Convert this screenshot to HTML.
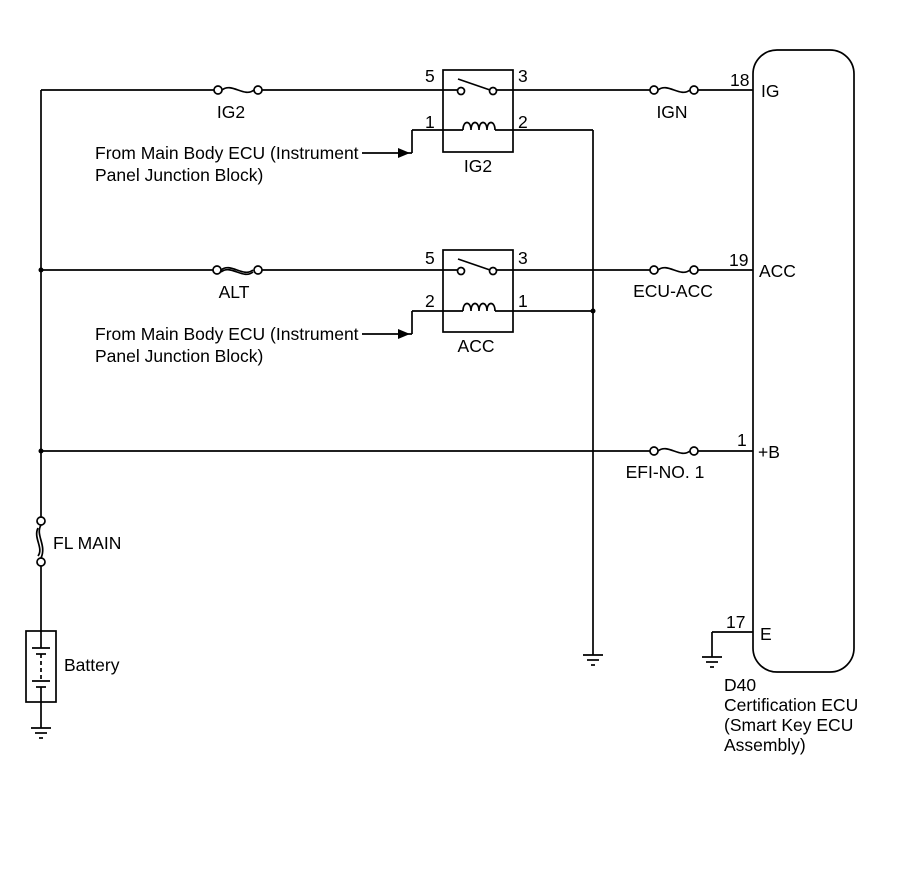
<!DOCTYPE html>
<html><head><style>
body{margin:0;background:#fff;}
svg text{font-family:"Liberation Sans",sans-serif;fill:#000;}
</style></head><body>
<svg width="907" height="866" viewBox="0 0 907 866" xmlns="http://www.w3.org/2000/svg">
<g stroke="#000" stroke-width="1.7" fill="none">
<line x1="41" y1="90" x2="41" y2="517"/>
<line x1="41" y1="566" x2="41" y2="632"/>
<line x1="41" y1="702" x2="41" y2="728"/>
<circle cx="41" cy="521" r="4" fill="#fff"/>
<circle cx="41" cy="562" r="4" fill="#fff"/>
<path d="M41 525 C35 535,47 545,41 558"/>
<path d="M38 528 C33 538,44 548,38 556"/>
<rect x="26" y="631" width="30" height="71"/>
<line x1="41" y1="631" x2="41" y2="648"/>
<line x1="32" y1="648" x2="50" y2="648"/>
<line x1="36" y1="654" x2="46" y2="654"/>
<line x1="41" y1="654" x2="41" y2="681" stroke-dasharray="4,3"/>
<line x1="32" y1="681" x2="50" y2="681"/>
<line x1="36" y1="687" x2="46" y2="687"/>
<line x1="41" y1="687" x2="41" y2="702"/>
<line x1="31" y1="728" x2="51" y2="728"/>
<line x1="35" y1="733" x2="47" y2="733"/>
<line x1="39" y1="738" x2="43" y2="738"/>

<line x1="41" y1="90" x2="214" y2="90"/>
<circle cx="218" cy="90" r="4" fill="#fff"/>
<path d="M222 90 C232 82,244 98,254 90"/>
<circle cx="258" cy="90" r="4" fill="#fff"/>
<line x1="262" y1="90" x2="457" y2="90"/>
<circle cx="461" cy="91" r="3.5" fill="#fff"/>
<line x1="458" y1="79" x2="490" y2="90"/>
<circle cx="493" cy="91" r="3.5" fill="#fff"/>
<line x1="497" y1="90" x2="650" y2="90"/>
<circle cx="654" cy="90" r="4" fill="#fff"/>
<path d="M658 90 C668 82,680 98,690 90"/>
<circle cx="694" cy="90" r="4" fill="#fff"/>
<line x1="698" y1="90" x2="753" y2="90"/>
<rect x="443" y="70" width="70" height="82"/>
<line x1="412" y1="130" x2="463" y2="130"/>
<path d="M463 130 C463 120,471 120,471 130 C471 120,479 120,479 130 C479 120,487 120,487 130 C487 120,495 120,495 130"/>
<line x1="495" y1="130" x2="593" y2="130"/>
<line x1="412" y1="130" x2="412" y2="153"/>
<line x1="362" y1="153" x2="412" y2="153"/>
<line x1="593" y1="130" x2="593" y2="655"/>
<line x1="583" y1="655" x2="603" y2="655"/>
<line x1="587" y1="660" x2="599" y2="660"/>
<line x1="591" y1="665" x2="595" y2="665"/>

<line x1="41" y1="270" x2="213" y2="270"/>
<circle cx="217" cy="270" r="4" fill="#fff"/>
<path d="M221 270 C231 262,243 278,253 270"/>
<path d="M221 272 C231 264,243 280,253 272"/>
<circle cx="258" cy="270" r="4" fill="#fff"/>
<line x1="262" y1="270" x2="457" y2="270"/>
<circle cx="461" cy="271" r="3.5" fill="#fff"/>
<line x1="458" y1="259" x2="490" y2="270"/>
<circle cx="493" cy="271" r="3.5" fill="#fff"/>
<line x1="497" y1="270" x2="650" y2="270"/>
<circle cx="654" cy="270" r="4" fill="#fff"/>
<path d="M658 270 C668 262,680 278,690 270"/>
<circle cx="694" cy="270" r="4" fill="#fff"/>
<line x1="698" y1="270" x2="753" y2="270"/>
<rect x="443" y="250" width="70" height="82"/>
<line x1="412" y1="311" x2="463" y2="311"/>
<path d="M463 311 C463 301,471 301,471 311 C471 301,479 301,479 311 C479 301,487 301,487 311 C487 301,495 301,495 311"/>
<line x1="495" y1="311" x2="593" y2="311"/>
<line x1="412" y1="311" x2="412" y2="334"/>
<line x1="362" y1="334" x2="412" y2="334"/>

<line x1="41" y1="451" x2="650" y2="451"/>
<circle cx="654" cy="451" r="4" fill="#fff"/>
<path d="M658 451 C668 443,680 459,690 451"/>
<circle cx="694" cy="451" r="4" fill="#fff"/>
<line x1="698" y1="451" x2="753" y2="451"/>

<line x1="712" y1="632" x2="753" y2="632"/>
<line x1="712" y1="632" x2="712" y2="657"/>
<line x1="702" y1="657" x2="722" y2="657"/>
<line x1="706" y1="662" x2="718" y2="662"/>
<line x1="710" y1="667" x2="714" y2="667"/>

<rect x="753" y="50" width="101" height="622" rx="24" ry="24"/>
</g>
<g fill="#000">
<polygon points="398,148 410,153 398,158"/>
<polygon points="398,329 410,334 398,339"/>
<circle cx="41" cy="270" r="2.5"/>
<circle cx="41" cy="451" r="2.5"/>
<circle cx="593" cy="311" r="2.5"/>
</g>
<g font-size="17.5">
<text x="231" y="118" text-anchor="middle">IG2</text>
<text x="425" y="82">5</text>
<text x="518" y="82">3</text>
<text x="425" y="128">1</text>
<text x="518" y="128">2</text>
<text x="478" y="172" text-anchor="middle">IG2</text>
<text x="672" y="118" text-anchor="middle">IGN</text>
<text x="730" y="86">18</text>
<text x="761" y="97">IG</text>
<text x="95" y="159">From Main Body ECU (Instrument</text>
<text x="95" y="181">Panel Junction Block)</text>
<text x="234" y="298" text-anchor="middle">ALT</text>
<text x="425" y="264">5</text>
<text x="518" y="264">3</text>
<text x="425" y="307">2</text>
<text x="518" y="307">1</text>
<text x="476" y="352" text-anchor="middle">ACC</text>
<text x="673" y="297" text-anchor="middle">ECU-ACC</text>
<text x="729" y="266">19</text>
<text x="759" y="277">ACC</text>
<text x="95" y="340">From Main Body ECU (Instrument</text>
<text x="95" y="362">Panel Junction Block)</text>
<text x="665" y="478" text-anchor="middle">EFI-NO. 1</text>
<text x="737" y="446">1</text>
<text x="758" y="458">+B</text>
<text x="53" y="549">FL MAIN</text>
<text x="64" y="671">Battery</text>
<text x="726" y="628">17</text>
<text x="760" y="640">E</text>
<text x="724" y="691">D40</text>
<text x="724" y="711">Certification ECU</text>
<text x="724" y="731">(Smart Key ECU</text>
<text x="724" y="751">Assembly)</text>
</g>
</svg>
</body></html>
